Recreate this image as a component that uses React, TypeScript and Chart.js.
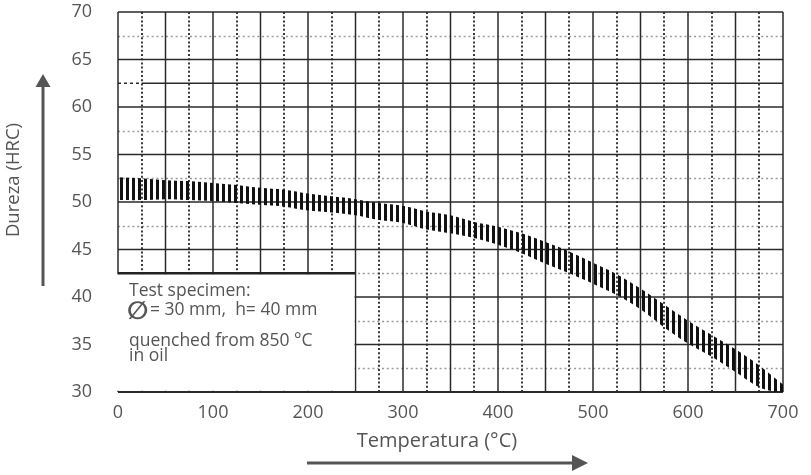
import React, { useEffect, useRef } from 'react';
import { Chart, registerables } from 'chart.js';

Chart.register(...registerables);

// ---- data ----
const temperatures = [0, 25, 50, 75, 100, 125, 150, 175, 200, 225, 250, 275, 300, 325, 350, 375, 400, 425, 450, 475, 500, 525, 550, 575, 600, 625, 650, 675, 700];
const hardnessUpper = [52.6, 52.5, 52.3, 52.2, 52.0, 51.8, 51.5, 51.3, 50.9, 50.6, 50.3, 49.9, 49.6, 49.0, 48.6, 47.9, 47.4, 46.7, 45.8, 44.8, 43.6, 42.4, 40.9, 39.2, 37.5, 36.0, 34.5, 32.8, 30.8];
const hardnessLower = [50.2, 50.2, 50.3, 50.2, 50.1, 49.9, 49.7, 49.5, 49.1, 48.9, 48.6, 48.1, 47.8, 47.1, 46.7, 46.2, 45.5, 44.6, 43.5, 42.5, 41.4, 40.2, 38.7, 36.8, 35.1, 33.7, 32.1, 30.5, 29.8];

const xRange = [0, 700];
const yRange = [30, 70];
const xTickStep = 100;
const yTickStep = 5;
const xGridStep = 25;
const yGridStep = 2.5;
const solidQuirkValue = 62.5;
const noteBoxTempMax = 250;
const noteBoxHardnessMax = 42.5;

const xTitle = 'Temperatura (°C)';
const yTitle = 'Dureza (HRC)';
const noteLines = ['Test specimen:', '= 30 mm,  h= 40 mm', 'quenched from 850 °C', 'in oil'];
const diameterSymbol = '∅';

const FONT = '"Open Sans", sans-serif';
const TEXT_COLOR = '#555';

const gridPlugin = {
  id: 'customGrid',
  beforeDatasetsDraw(chart: any) {
    const { ctx, scales } = chart;
    const x = scales.x;
    const y = scales.y;
    const x0 = x.getPixelForValue(xRange[0]);
    const x1 = x.getPixelForValue(xRange[1]);
    const y0 = y.getPixelForValue(yRange[0]);
    const y1 = y.getPixelForValue(yRange[1]);
    ctx.save();
    // horizontal dotted (gray)
    ctx.strokeStyle = '#9a9a9a';
    ctx.lineWidth = 1.6;
    ctx.setLineDash([2, 2.8]);
    for (let v = yRange[0] + yGridStep; v < yRange[1]; v += yGridStep * 2) {
      if (v === solidQuirkValue) continue;
      const py = Math.round(y.getPixelForValue(v)) + 0.5;
      ctx.beginPath();
      ctx.moveTo(x0, py);
      ctx.lineTo(x1, py);
      ctx.stroke();
    }
    // vertical dotted (dark)
    ctx.strokeStyle = '#3a3a3a';
    ctx.lineWidth = 2;
    ctx.setLineDash([2, 2.2]);
    for (let v = xRange[0] + xGridStep; v < xRange[1]; v += xGridStep * 2) {
      const px = Math.round(x.getPixelForValue(v));
      ctx.beginPath();
      ctx.moveTo(px, y1);
      ctx.lineTo(px, y0);
      ctx.stroke();
    }
    // solid lines
    ctx.setLineDash([]);
    ctx.strokeStyle = '#2a2a2a';
    for (let v = yRange[0]; v <= yRange[1]; v += yTickStep) {
      const py = y.getPixelForValue(v);
      ctx.lineWidth = v === yRange[0] ? 2.2 : 1.5;
      ctx.beginPath();
      ctx.moveTo(x0, py);
      ctx.lineTo(x1, py);
      ctx.stroke();
    }
    // the 62.5 line is solid in the original (dashed only at its left end)
    {
      ctx.lineWidth = 1.5;
      const py = y.getPixelForValue(solidQuirkValue);
      const pxs = x.getPixelForValue(xGridStep);
      ctx.beginPath();
      ctx.moveTo(pxs, py);
      ctx.lineTo(x1, py);
      ctx.stroke();
      ctx.setLineDash([3, 3]);
      ctx.beginPath();
      ctx.moveTo(x0, py);
      ctx.lineTo(pxs, py);
      ctx.stroke();
      ctx.setLineDash([]);
    }
    ctx.lineWidth = 1.5;
    for (let v = xRange[0]; v <= xRange[1]; v += xGridStep * 2) {
      const px = x.getPixelForValue(v);
      ctx.beginPath();
      ctx.moveTo(px, y1);
      ctx.lineTo(px, y0);
      ctx.stroke();
    }
    ctx.restore();
  },
  afterDatasetsDraw(chart: any) {
    const { ctx, scales } = chart;
    const x = scales.x;
    const y = scales.y;
    const bx0 = x.getPixelForValue(xRange[0]);
    const bx1 = x.getPixelForValue(noteBoxTempMax);
    const by0 = y.getPixelForValue(noteBoxHardnessMax);
    const by1 = y.getPixelForValue(yRange[0]);
    ctx.save();
    ctx.fillStyle = '#ffffff';
    ctx.fillRect(bx0 - 3, by0 + 1, bx1 - bx0 + 2, by1 - by0 - 2.2);
    ctx.strokeStyle = '#222';
    ctx.lineWidth = 2.5;
    ctx.beginPath();
    ctx.moveTo(bx0, by0);
    ctx.lineTo(bx1, by0);
    ctx.stroke();
    // notes
    ctx.fillStyle = TEXT_COLOR;
    ctx.textAlign = 'left';
    ctx.textBaseline = 'alphabetic';
    const tx = bx0 + 11;
    ctx.font = `17.5px ${FONT}`;
    ctx.fillText(noteLines[0], tx, by0 + 23);
    ctx.font = `bold 25px "DejaVu Sans", sans-serif`;
    ctx.fillText(diameterSymbol, tx - 2, by0 + 46);
    ctx.font = `17.5px ${FONT}`;
    ctx.fillText(noteLines[1], tx + 21, by0 + 42);
    ctx.fillText(noteLines[2], tx, by0 + 73);
    ctx.fillText(noteLines[3], tx, by0 + 88);
    ctx.restore();
  },
  afterDraw(chart: any) {
    const { ctx } = chart;
    ctx.save();
    ctx.fillStyle = TEXT_COLOR;
    ctx.strokeStyle = TEXT_COLOR;
    ctx.textAlign = 'center';
    ctx.textBaseline = 'middle';
    // y title
    ctx.font = `18.5px ${FONT}`;
    ctx.save();
    ctx.translate(14, 180);
    ctx.rotate(-Math.PI / 2);
    ctx.fillText(yTitle, 0, 0);
    ctx.restore();
    // x title
    ctx.font = `20px ${FONT}`;
    ctx.fillText(xTitle, 437, 441);
    // y arrow
    ctx.lineWidth = 3;
    ctx.beginPath();
    ctx.moveTo(43, 286);
    ctx.lineTo(43, 84);
    ctx.stroke();
    ctx.beginPath();
    ctx.moveTo(43, 74);
    ctx.lineTo(35.5, 87);
    ctx.lineTo(50.5, 87);
    ctx.closePath();
    ctx.fill();
    // x arrow
    ctx.beginPath();
    ctx.moveTo(307, 463);
    ctx.lineTo(574, 463);
    ctx.stroke();
    ctx.beginPath();
    ctx.moveTo(588, 463);
    ctx.lineTo(572, 455);
    ctx.lineTo(572, 471);
    ctx.closePath();
    ctx.fill();
    ctx.restore();
  },
};

function makeStripePattern(): CanvasPattern | string {
  const c = document.createElement('canvas');
  c.width = 6;
  c.height = 4;
  const g = c.getContext('2d');
  if (!g) return '#111';
  g.fillStyle = '#111';
  g.fillRect(0, 0, 3, 4);
  return g.createPattern(c, 'repeat') || '#111';
}

export default function App() {
  const canvasRef = useRef<HTMLCanvasElement | null>(null);

  useEffect(() => {
    const canvas = canvasRef.current;
    if (!canvas) return;
    const stripes = makeStripePattern();
    const upperData = temperatures.map((t, i) => ({ x: t, y: hardnessUpper[i] }));
    const lowerData = temperatures.map((t, i) => ({ x: t, y: hardnessLower[i] }));
    const chart = new Chart(canvas, {
      type: 'line',
      data: {
        datasets: [
          {
            label: 'upper',
            data: upperData,
            borderWidth: 0,
            borderColor: 'rgba(0,0,0,0)',
            pointRadius: 0,
            fill: false,
            tension: 0.3,
          },
          {
            label: 'lower',
            data: lowerData,
            borderWidth: 0,
            borderColor: 'rgba(0,0,0,0)',
            pointRadius: 0,
            fill: '-1',
            backgroundColor: stripes as any,
            tension: 0.3,
          },
        ],
      },
      options: {
        responsive: false,
        animation: false,
        layout: { padding: { top: 12, right: 28, left: 0, bottom: 0 } },
        plugins: { legend: { display: false }, tooltip: { enabled: false }, title: { display: false } },
        scales: {
          x: {
            type: 'linear',
            min: xRange[0],
            max: xRange[1],
            grid: { display: false, drawTicks: false },
            border: { display: false },
            ticks: {
              stepSize: xTickStep,
              color: TEXT_COLOR,
              font: { family: FONT, size: 18 },
              padding: 10,
              maxRotation: 0,
            },
            afterFit: (s: any) => {
              s.height = 83;
              s.paddingLeft = 0;
              s.paddingRight = 0;
            },
          },
          y: {
            type: 'linear',
            min: yRange[0],
            max: yRange[1],
            grid: { display: false, drawTicks: false },
            border: { display: false },
            ticks: {
              stepSize: yTickStep,
              color: TEXT_COLOR,
              font: { family: FONT, size: 18 },
              padding: 26,
            },
            afterFit: (s: any) => {
              s.width = 118;
              s.paddingTop = 0;
              s.paddingBottom = 0;
            },
          },
        },
      },
      plugins: [gridPlugin],
    });
    return () => chart.destroy();
  }, []);

  return (
    <div style={{ position: 'absolute', left: 0, top: 0, width: 811, height: 475, background: '#fff' }}>
      <canvas ref={canvasRef} width={811} height={475} style={{ width: 811, height: 475 }} />
    </div>
  );
}
